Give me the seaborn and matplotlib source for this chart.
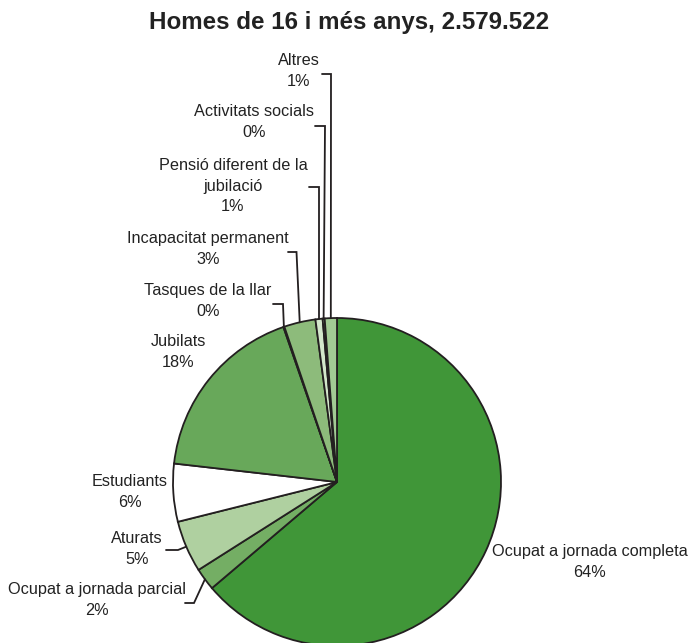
import matplotlib
matplotlib.use("Agg")
import matplotlib.pyplot as plt
import seaborn as sns
import numpy as np

# ---- data ----
categories = ["Ocupat a jornada completa", "Ocupat a jornada parcial", "Aturats",
              "Estudiants", "Jubilats", "Tasques de la llar", "Incapacitat permanent",
              "Pensió diferent de la jubilació", "Activitats socials", "Altres"]
values = [63.8, 2.2, 5.1, 5.7, 17.9, 0.1, 3.1, 0.7, 0.2, 1.2]
pct_labels = ["64%", "2%", "5%", "6%", "18%", "0%", "3%", "1%", "0%", "1%"]
label_text = ["Ocupat a jornada completa", "Ocupat a jornada parcial", "Aturats",
              "Estudiants", "Jubilats", "Tasques de la llar", "Incapacitat permanent",
              "Pensió diferent de la\njubilació", "Activitats socials", "Altres"]
colors = ["#409638", "#74ae64", "#afd0a0", "#ffffff", "#68a85a", "#8dbb7b",
          "#8dbb7b", "#d3e7cb", "#b9d9ab", "#a2cb94"]
title = "Homes de 16 i més anys, 2.579.522"

sns.set_theme(style="white")
plt.rcParams["font.family"] = ["Liberation Sans", "DejaVu Sans"]

W, H = 691, 643
fig = plt.figure(figsize=(W / 100, H / 100), dpi=100)
ax = fig.add_axes([0, 0, 1, 1])
ax.set_xlim(0, W)
ax.set_ylim(0, H)
ax.set_aspect("equal")
ax.axis("off")

def py(y):
    return H - y

cx, cy, R = 337, 482, 164
edge = "#231f20"
ax.pie(values, colors=colors, startangle=90, counterclock=False,
       center=(cx, py(cy)), radius=R, frame=True,
       wedgeprops=dict(edgecolor=edge, linewidth=1.3))
ax.set_xlim(0, W)
ax.set_ylim(0, H)
ax.axis("off")

# label layout (pixel positions of text centres)
label_pos = [(590, 562), (97, 600), (137, 549), (130, 492), (178, 352),
             (208, 301), (208, 249), (233, 186), (254, 122), (299, 71)]
# leader lines: start point, elbow (None = no leader)
leaders = [None,
           ((185, 603), (194, 603)),
           ((166, 550), (178, 550)),
           None, None,
           ((273, 304), (283, 304)),
           ((288, 252), (296.5, 252)),
           ((309, 187), (319, 187)),
           ((315, 126), (325, 126)),
           ((322, 74), (331, 74))]

total = sum(values)
cum = np.cumsum([0] + values)
txtc = "#222222"
for i, cat in enumerate(categories):
    mid = (cum[i] + cum[i + 1]) / 2 / total * 360.0
    ex = cx + R * np.sin(np.radians(mid))
    ey = cy - R * np.cos(np.radians(mid))
    lx, ly = label_pos[i]
    ax.text(lx, py(ly), label_text[i] + "\n" + pct_labels[i], ha="center", va="center",
            multialignment="center", fontsize=11.7, color=txtc, linespacing=1.45)
    if leaders[i] is not None:
        (x0, y0), (x1, y1) = leaders[i]
        ax.plot([x0, x1, ex], [py(y0), py(y1), py(ey)], color=edge, lw=1.3,
                solid_joinstyle="miter", zorder=5)

fig.text(349 / W, 1 - 22 / H, title, ha="center", va="center", fontsize=17.4,
         fontweight="bold", color=txtc)

fig.savefig("out.png", dpi=100)
